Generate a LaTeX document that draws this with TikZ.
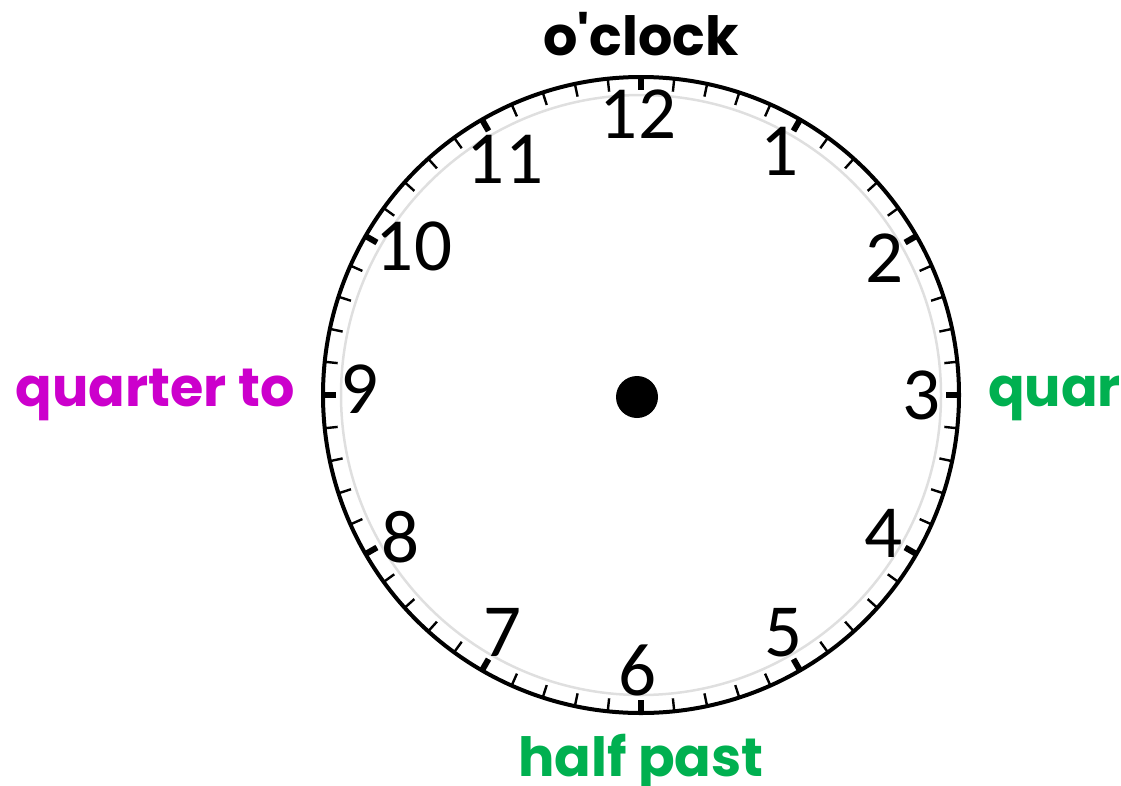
\documentclass[tikz,border=0pt]{standalone}
\usepackage{fontspec}
\setmainfont{Carlito}
\newfontfamily\labelfont{Poppins}
\usepackage{tikz}

\definecolor{toviolet}{RGB}{204,0,204}
\definecolor{pastgreen}{RGB}{0,176,80}

\begin{document}
\begin{tikzpicture}[x=1pt,y=-1pt,
  numlabel/.style={inner sep=0pt,font=\fontsize{75}{75}\selectfont},
  timelabel/.style={inner sep=0pt,font=\labelfont\bfseries\fontsize{54}{54}\selectfont}]
\useasboundingbox (0,0) rectangle (1121,785);
\clip (0,0) rectangle (1121,785);
% rim
\begin{scope}[shift={(641,395)}]
\draw[gray!25,line width=2.5pt] (0,0) circle (300);
\foreach \m in {0,...,59}
  \draw[line width=2.4pt] (\m*6:318) -- (\m*6:305);
\foreach \h in {0,...,11}
  \draw[line width=6pt] (\h*30:318) -- (\h*30:305);
\draw[line width=4pt] (0,0) circle (318);
\end{scope}
% hours
\foreach \n/\x/\y in {12/638/114,1/779/151,2/884/258,3/921/395,4/883/533,5/783/633,
                      6/637/670,7/502/632,8/401/537,9/360/389,10/414/246,11/505/159}
  \node[numlabel] (n\n) at (\x,\y) {\n};
\fill (637,397) circle (21);
% names
\node[timelabel,anchor=base] (oclock) at (641,55) {o'clock};
\node[timelabel,anchor=base east,text=toviolet] (qto) at (295,406) {quarter to};
\node[timelabel,anchor=base west,text=pastgreen] (qpast) at (988,406) {quarter past};
\node[timelabel,anchor=base,text=pastgreen] (half) at (641,776) {half past};
\end{tikzpicture}
\end{document}
